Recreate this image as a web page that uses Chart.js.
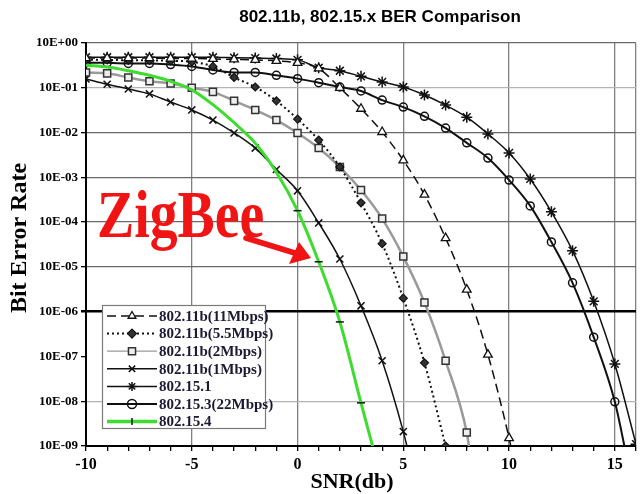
<!DOCTYPE html>
<html><head><meta charset="utf-8">
<script src="https://cdn.jsdelivr.net/npm/chart.js@4.4.0/dist/chart.umd.min.js"></script>
<style>html,body{margin:0;padding:0;background:#fff}#wrap{width:643px;height:494px;position:relative}</style>
</head><body><div id="wrap"><canvas id="c"></canvas></div>
<script>
// ---------- text ----------
const titleText = '802.11b, 802.15.x BER Comparison';
const xAxisLabel = 'SNR(db)';
const yAxisLabel = 'Bit Error Rate';
const annotationText = 'ZigBee';
const seriesNames = ['802.11b(11Mbps)','802.11b(5.5Mbps)','802.11b(2Mbps)','802.11b(1Mbps)','802.15.1','802.15.3(22Mbps)','802.15.4'];

// ---------- ticks ----------
const yTickExponents = [0,-1,-2,-3,-4,-5,-6,-7,-8,-9];
const xTickLabels = [-10,-5,0,5,10,15];

// ---------- data (SNR in dB, BER) ----------
const snr11 = [-10,-9,-8,-7,-6,-5,-4,-3,-2,-1,0,1,2,3,4,5,6,7,8,9,10,10.15];
const ber11 = [0.46,0.46,0.46,0.46,0.45,0.45,0.44,0.43,0.42,0.40,0.36,0.27,0.10,0.034,0.0103,0.0024,4.1e-4,4.4e-5,3.1e-6,1.1e-7,1.5e-9,7e-10];

const snr55 = [-10,-9,-8,-7,-6,-5,-4,-3,-2,-1,0,1,2,3,4,5,6,7];
const ber55 = [0.42,0.42,0.41,0.41,0.40,0.38,0.30,0.17,0.104,0.051,0.020,0.0068,0.0017,2.7e-4,3.3e-5,2.0e-6,7.2e-8,1.0e-9];

const snr2 = [-10,-9,-8,-7,-6,-5,-4,-3,-2,-1,0,1,2,3,4,5,6,7,8,8.15];
const ber2 = [0.22,0.21,0.17,0.14,0.125,0.10,0.081,0.051,0.032,0.019,0.0098,0.0045,0.0017,5.2e-4,1.2e-4,1.7e-5,1.6e-6,8e-8,2e-9,7e-10];

const snr1 = [-10,-9,-8,-7,-6,-5,-4,-3,-2,-1,0,1,2,3,4,5,5.25];
const ber1 = [0.158,0.12,0.094,0.073,0.048,0.032,0.019,0.0098,0.0045,0.0015,5e-4,9.6e-5,1.5e-5,1.35e-6,8e-8,2.1e-9,7e-10];

const snr151 = [-10,-9,-8,-7,-6,-5,-4,-3,-2,-1,0,1,2,3,4,5,6,7,8,9,10,11,12,13,14,15,16];
const ber151 = [0.48,0.48,0.48,0.48,0.48,0.48,0.48,0.47,0.46,0.45,0.42,0.28,0.24,0.18,0.135,0.104,0.069,0.041,0.022,0.0093,0.0035,9.2e-4,1.7e-4,2.3e-5,1.7e-6,6.8e-8,1.1e-9];

const snr153 = [-10,-9,-8,-7,-6,-5,-4,-3,-2,-1,0,1,2,3,4,5,6,7,8,9,10,11,12,13,14,15,15.55];
const ber153 = [0.36,0.36,0.35,0.35,0.33,0.30,0.25,0.22,0.22,0.19,0.16,0.13,0.104,0.085,0.053,0.037,0.023,0.0126,0.0059,0.0027,8.7e-4,2.3e-4,3.6e-5,4.4e-6,2.7e-7,9.7e-9,6e-10];

const snr154 = [-10,-9,-8,-7,-6,-5,-4,-3,-2,-1,0,1,2,3,3.6];
const ber154 = [0.32,0.29,0.24,0.19,0.14,0.09,0.042,0.0166,0.0058,0.0013,1.8e-4,1.3e-5,5.9e-7,9.2e-9,8e-10];

// ---------- helpers ----------
const pts = (xs, ys) => xs.map((x, i) => ({x, y: ys[i]}));
const YMIN = 1e-9, YMAX = 1;
const radiusIn = r => c => (c.raw && c.raw.y < YMIN) ? 0 : r;
const SERIF = "'Liberation Serif','Times New Roman',serif";
const SANS = "'Liberation Sans',Arial,sans-serif";
const fmtExp = v => { const e = Math.round(Math.log10(v)); return '10E' + (e >= 0 ? '+' : '-') + String(Math.abs(e)).padStart(2, '0'); };

const datasets = [
  {label: seriesNames[0], data: pts(snr11, ber11), borderColor:'#111', borderWidth:1.5, borderDash:[9,5],
   pointStyle:'triangle', pointRadius: radiusIn(5), pointBackgroundColor:'#fff', pointBorderColor:'#111', pointBorderWidth:1.3},
  {label: seriesNames[1], data: pts(snr55, ber55), borderColor:'#111', borderWidth:2, borderDash:[2,3],
   pointStyle:'rectRot', pointRadius: radiusIn(4), pointBackgroundColor:'#333', pointBorderColor:'#111', pointBorderWidth:1.2},
  {label: seriesNames[2], data: pts(snr2, ber2), borderColor:'#9a9a9a', borderWidth:2.5,
   pointStyle:'rect', pointRadius: radiusIn(5), pointBackgroundColor:'#eee', pointBorderColor:'#333', pointBorderWidth:1.5},
  {label: seriesNames[3], data: pts(snr1, ber1), borderColor:'#111', borderWidth:1.5,
   pointStyle:'crossRot', pointRadius: radiusIn(5), pointBorderColor:'#111', pointBorderWidth:1.5},
  {label: seriesNames[4], data: pts(snr151, ber151), borderColor:'#111', borderWidth:1.5,
   pointStyle:'star', pointRadius: radiusIn(5.5), pointBorderColor:'#111', pointBorderWidth:1.5},
  {label: seriesNames[5], data: pts(snr153, ber153), borderColor:'#111', borderWidth:2,
   pointStyle:'circle', pointRadius: radiusIn(4), pointBackgroundColor:'rgba(255,255,255,0)', pointBorderColor:'#111', pointBorderWidth:1.5},
  {label: seriesNames[6], data: pts(snr154, ber154), borderColor:'#3ddc2e', borderWidth:3, order:-1,
   pointStyle:'line', pointRadius: c => (c.raw && c.raw.x >= 0 && c.raw.y >= YMIN) ? 4 : 0, pointBorderColor:'#111', pointBorderWidth:1.5}
];
datasets.forEach(d => { d.cubicInterpolationMode = 'monotone'; d.fill = false; d.pointHoverRadius = 0; });

function yGridColor(v) {
  const e = Math.round(Math.log10(v));
  if (e === -6 || e === -9) return '#000';
  if (e === -7) return 'rgba(0,0,0,0)';
  if (e === -1 || e === -8) return '#b4b4b4';
  return '#6a6a6a';
}

function drawMarker(ctx, style, x, y, r, fill, stroke, lw) {
  ctx.save();
  ctx.lineWidth = lw; ctx.strokeStyle = stroke; ctx.fillStyle = fill;
  ctx.beginPath();
  if (style === 'triangle') {
    ctx.moveTo(x, y - r); ctx.lineTo(x - r * 0.866, y + r * 0.5); ctx.lineTo(x + r * 0.866, y + r * 0.5); ctx.closePath();
    ctx.fill(); ctx.stroke();
  } else if (style === 'rectRot') {
    ctx.moveTo(x, y - r); ctx.lineTo(x + r, y); ctx.lineTo(x, y + r); ctx.lineTo(x - r, y); ctx.closePath(); ctx.fill(); ctx.stroke();
  } else if (style === 'rect') {
    const s = r * Math.SQRT1_2; ctx.rect(x - s, y - s, 2 * s, 2 * s); ctx.fill(); ctx.stroke();
  } else if (style === 'crossRot' || style === 'star') {
    const s = r * Math.SQRT1_2;
    ctx.moveTo(x - s, y - s); ctx.lineTo(x + s, y + s); ctx.moveTo(x - s, y + s); ctx.lineTo(x + s, y - s);
    if (style === 'star') { ctx.moveTo(x, y - r); ctx.lineTo(x, y + r); ctx.moveTo(x - r, y); ctx.lineTo(x + r, y); }
    ctx.stroke();
  } else if (style === 'circle') {
    ctx.arc(x, y, r, 0, Math.PI * 2); ctx.fill(); ctx.stroke();
  } else if (style === 'vline') {
    ctx.moveTo(x, y - r); ctx.lineTo(x, y + r); ctx.stroke();
  }
  ctx.restore();
}

const decorPlugin = {
  id: 'decor',
  beforeDraw(chart) {
    const ctx = chart.ctx; ctx.save(); ctx.fillStyle = '#fff'; ctx.fillRect(0, 0, chart.width, chart.height); ctx.restore();
  },
  afterDatasetsDraw(chart) {
    const ctx = chart.ctx;
    // ZigBee annotation
    ctx.save();
    ctx.fillStyle = '#f01414';
    ctx.font = 'bold 68px ' + SERIF;
    ctx.textBaseline = 'alphabetic';
    ctx.translate(97, 237); ctx.scale(0.82, 1);
    ctx.fillText(annotationText, 0, 0);
    ctx.restore();
    // arrow
    ctx.save();
    ctx.strokeStyle = '#f01414'; ctx.fillStyle = '#f01414'; ctx.lineWidth = 5.5; ctx.lineCap = 'round';
    ctx.beginPath(); ctx.moveTo(246, 238); ctx.lineTo(298, 254); ctx.stroke();
    ctx.beginPath(); ctx.moveTo(311, 258); ctx.lineTo(289, 264); ctx.lineTo(299, 242); ctx.closePath(); ctx.fill();
    ctx.restore();
    // legend
    ctx.save();
    ctx.fillStyle = '#fff'; ctx.fillRect(102, 305, 164, 124);
    ctx.strokeStyle = '#7a7a7a'; ctx.lineWidth = 1.2; ctx.strokeRect(102.5, 305.5, 163, 123);
    chart.data.datasets.forEach((d, i) => {
      const y = 316 + i * 17.6;
      ctx.save();
      ctx.strokeStyle = d.borderColor; ctx.lineWidth = Math.min(d.borderWidth, 2.5);
      if (i === 2) ctx.lineWidth = 1.3;
      if (i === 6) ctx.lineWidth = 3.5;
      ctx.setLineDash(d.borderDash || []);
      ctx.beginPath(); ctx.moveTo(107, y); ctx.lineTo(157, y); ctx.stroke();
      ctx.restore();
      const st = i === 6 ? 'vline' : d.pointStyle;
      const r = i === 6 ? 3.5 : (i === 2 ? 5 : 4.5);
      drawMarker(ctx, st, 132, y, r, d.pointBackgroundColor || '#fff', d.pointBorderColor || '#111', d.pointBorderWidth || 1.5);
      ctx.fillStyle = '#1c1a33';
      ctx.font = 'bold 15px ' + SERIF;
      ctx.textBaseline = 'middle'; ctx.textAlign = 'left';
      ctx.fillText(d.label, 159, y + 1);
    });
    ctx.restore();
  },
  afterDraw(chart) {
    const ctx = chart.ctx;
    ctx.save();
    ctx.fillStyle = '#000';
    ctx.textAlign = 'center'; ctx.textBaseline = 'middle';
    ctx.font = 'bold 17px ' + SANS;
    ctx.fillText(titleText, 380, 17);
    ctx.font = 'bold 22px ' + SERIF;
    ctx.fillText(xAxisLabel, 352, 482);
    ctx.translate(20, 238); ctx.rotate(-Math.PI / 2);
    ctx.font = 'bold 24px ' + SERIF;
    ctx.fillText(yAxisLabel, 0, 0);
    ctx.restore();
  }
};

new Chart(document.getElementById('c'), {
  type: 'line',
  data: { datasets },
  options: {
    responsive: true, maintainAspectRatio: false, animation: false, devicePixelRatio: 1,
    parsing: true,
    layout: { padding: { top: 43, right: 2, left: 0, bottom: 0 } },
    plugins: { legend: { display: false }, tooltip: { enabled: false }, title: { display: false } },
    scales: {
      x: {
        type: 'linear', min: -10, max: 16,
        afterFit: s => { s.height = 48; },
        ticks: {
          stepSize: 1, autoSkip: false, maxRotation: 0, padding: 4, color: '#000',
          font: { family: SERIF, weight: 'bold', size: 16 },
          callback: v => xTickLabels.includes(v) ? String(v) : ''
        },
        grid: {
          color: c => (c.tick && (xTickLabels.includes(c.tick.value) || c.tick.value === 16)) ? '#808080' : 'rgba(0,0,0,0)',
          lineWidth: 1.3, tickColor: '#000', tickLength: 5, drawTicks: true
        },
        border: { display: true, color: '#000', width: 2 }
      },
      y: {
        type: 'logarithmic', min: YMIN, max: YMAX,
        afterFit: s => { s.width = 86; },
        afterBuildTicks: s => { s.ticks = yTickExponents.map(e => ({ value: Math.pow(10, e) })); },
        ticks: {
          autoSkip: false, padding: 3, color: '#000',
          font: { family: SERIF, weight: 'bold', size: 13 },
          callback: v => fmtExp(v)
        },
        grid: {
          color: c => c.tick ? yGridColor(c.tick.value) : '#666',
          lineWidth: c => (c.tick && Math.round(Math.log10(c.tick.value)) === -6) ? 2.5 : 1.3,
          tickColor: '#000', tickLength: 5, drawTicks: true
        },
        border: { display: true, color: '#000', width: 2 }
      }
    }
  },
  plugins: [decorPlugin]
});
</script>
</body></html>
